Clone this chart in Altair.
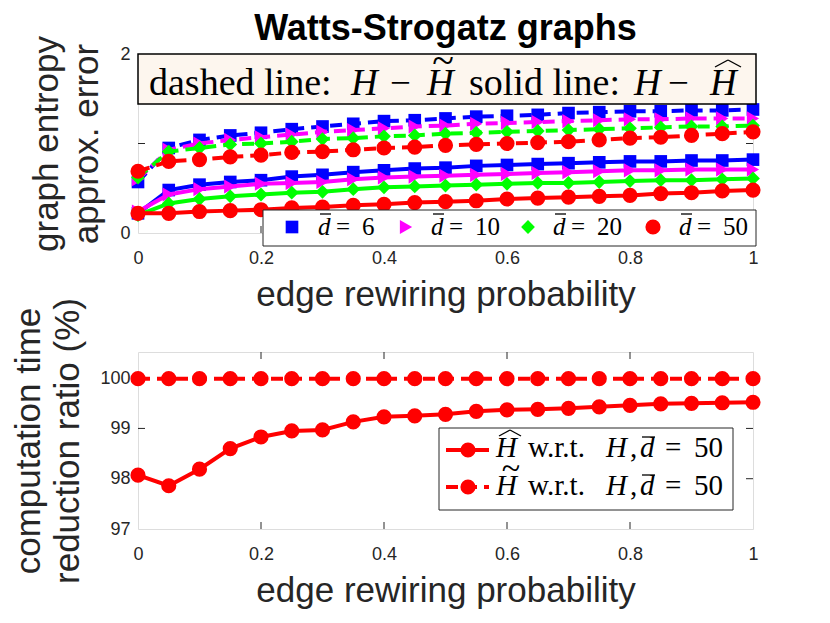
import altair as alt
import pandas as pd

# ---------------- data ----------------
P = [0, 0.05, 0.1, 0.15, 0.2, 0.25, 0.3, 0.35, 0.4, 0.45, 0.5,
     0.55, 0.6, 0.65, 0.7, 0.75, 0.8, 0.85, 0.9, 0.95, 1.0]

DEGREES = ["6", "10", "20", "50"]
COLORS = ["#0000FF", "#FF00FF", "#00FF00", "#FF0000"]
SHAPES = ["square", "triangle-right", "diamond", "circle"]
SIZES = [160, 200, 190, 230]

# dashed lines: H - H~
tilde_err_d6 = [0.57, 0.95, 1.04, 1.09, 1.12, 1.16, 1.19, 1.22, 1.25, 1.26, 1.28,
                1.30, 1.31, 1.32, 1.34, 1.35, 1.36, 1.36, 1.37, 1.37, 1.38]
tilde_err_d10 = [0.60, 0.93, 1.00, 1.04, 1.07, 1.10, 1.13, 1.15, 1.17, 1.19, 1.20,
                 1.22, 1.23, 1.24, 1.25, 1.26, 1.27, 1.27, 1.28, 1.28, 1.28]
tilde_err_d20 = [0.62, 0.91, 0.95, 0.99, 1.00, 1.02, 1.05, 1.06, 1.08, 1.09, 1.11,
                 1.12, 1.13, 1.14, 1.15, 1.16, 1.17, 1.18, 1.19, 1.19, 1.20]
tilde_err_d50 = [0.69, 0.80, 0.82, 0.85, 0.87, 0.90, 0.91, 0.93, 0.95, 0.96, 0.98,
                 0.99, 1.00, 1.01, 1.02, 1.04, 1.06, 1.07, 1.09, 1.11, 1.13]
# solid lines: H - H^
hat_err_d6 = [0.22, 0.48, 0.54, 0.57, 0.59, 0.63, 0.65, 0.68, 0.70, 0.72, 0.73,
              0.75, 0.76, 0.77, 0.78, 0.79, 0.80, 0.80, 0.81, 0.81, 0.82]
hat_err_d10 = [0.24, 0.43, 0.49, 0.52, 0.55, 0.56, 0.57, 0.60, 0.62, 0.63, 0.64,
               0.65, 0.66, 0.67, 0.68, 0.69, 0.70, 0.70, 0.71, 0.71, 0.71]
hat_err_d20 = [0.20, 0.33, 0.38, 0.41, 0.43, 0.45, 0.46, 0.49, 0.51, 0.52, 0.53,
               0.54, 0.55, 0.56, 0.56, 0.57, 0.58, 0.59, 0.59, 0.60, 0.61]
hat_err_d50 = [0.22, 0.22, 0.24, 0.25, 0.26, 0.28, 0.29, 0.31, 0.32, 0.34, 0.35,
               0.36, 0.38, 0.39, 0.40, 0.41, 0.42, 0.44, 0.45, 0.47, 0.48]

ratio_hat_d50 = [98.07, 97.86, 98.19, 98.60, 98.83, 98.95, 98.97, 99.13, 99.23, 99.25, 99.28,
                 99.34, 99.37, 99.38, 99.40, 99.43, 99.46, 99.49, 99.50, 99.51, 99.52]
ratio_tilde_d50 = [99.99, 99.99, 99.99, 99.99, 99.99, 99.99, 99.99, 99.99, 99.99, 99.99, 99.99,
                   99.99, 99.99, 99.99, 99.99, 99.99, 99.99, 99.99, 99.99, 99.99, 99.99]

X_TICKS = [0, 0.2, 0.4, 0.6, 0.8, 1]
TOP_Y_TICKS = [0, 1, 2]
BOT_Y_TICKS = [97, 98, 99, 100]

# ---------------- styling ----------------
W, H1, H2 = 615, 179, 177
SANS = "Liberation Sans"
SERIF = "Liberation Serif"
GRAY = "#262626"
DASH = [12, 7]
DUMMY = pd.DataFrame({"k": [0]})


def x_enc(title):
    return alt.X("x:Q", scale=alt.Scale(domain=[0, 1], nice=False, zero=False),
                 axis=alt.Axis(values=X_TICKS, format="~g", title=title, ticks=False, tickSize=0,
                               domain=False, grid=False, labelFlush=False, labelOverlap=False,
                               labelFont=SANS, labelFontSize=18, labelColor=GRAY, labelPadding=16,
                               titleFont=SANS, titleFontSize=35, titleFontWeight="normal",
                               titleColor=GRAY, titlePadding=10))


def y_enc(domain, ticks, title, lh, tpad, fmt):
    return alt.Y("y:Q", scale=alt.Scale(domain=domain, nice=False, zero=False),
                 axis=alt.Axis(values=ticks, format=fmt, title=title, ticks=False, tickSize=0,
                               domain=False, grid=False, labelFlush=False, labelOverlap=False,
                               labelFont=SANS, labelFontSize=18, labelColor=GRAY, labelPadding=8,
                               titleFont=SANS, titleFontSize=35, titleFontWeight="normal",
                               titleColor=GRAY, titlePadding=tpad, titleLineHeight=lh))


def txt(s, x, y, size, italic=False, font=SERIF, align="left", baseline="alphabetic", color="black"):
    kw = dict(font=font, fontSize=size, align=align, baseline=baseline, color=color)
    if italic:
        kw["fontStyle"] = "italic"
    return alt.Chart(DUMMY).mark_text(**kw).encode(
        x=alt.value(x), y=alt.value(y), text=alt.value(s))


def seg(x1, y1, x2, y2, width=1.5, color="black", dash=None):
    kw = dict(color=color, strokeWidth=width)
    if dash:
        kw["strokeDash"] = dash
    return alt.Chart(DUMMY).mark_rule(**kw).encode(
        x=alt.value(x1), x2=alt.value(x2), y=alt.value(y1), y2=alt.value(y2))


def hat(cx, top, hw, depth, width=1.4):
    return [seg(cx - hw, top + depth, cx, top, width), seg(cx, top, cx + hw, top + depth, width)]


def box(x1, x2, y1, y2, fill, stroke, sw):
    return alt.Chart(DUMMY).mark_rect(fill=fill, stroke=stroke, strokeWidth=sw).encode(
        x=alt.value(x1), x2=alt.value(x2), y=alt.value(y1), y2=alt.value(y2))


def dot(x, y, shape, color, size):
    return alt.Chart(DUMMY).mark_point(shape=shape, filled=True, color=color, size=size,
                                       opacity=1).encode(x=alt.value(x), y=alt.value(y))


def series(xs, ys, color, shape, size, dashed, X, Y):
    df = pd.DataFrame({"x": xs, "y": ys})
    lkw = dict(color=color, strokeWidth=4)
    if dashed:
        lkw["strokeDash"] = DASH
    line = alt.Chart(df).mark_line(**lkw).encode(x=X, y=Y)
    pts = alt.Chart(df).mark_point(shape=shape, filled=True, color=color, size=size,
                                   opacity=1).encode(x=X, y=Y)
    return [line, pts]


def tick_layers(X, Y, xt, yt, h, top=True):
    out = []
    xdf = pd.DataFrame({"x": xt})
    ydf = pd.DataFrame({"y": yt})
    out.append(alt.Chart(xdf).mark_rule(color=GRAY, strokeWidth=1).encode(
        x=X, y=alt.value(h), y2=alt.value(h - 7)))
    if top:
        out.append(alt.Chart(xdf).mark_rule(color=GRAY, strokeWidth=1).encode(
            x=X, y=alt.value(0), y2=alt.value(7)))
    out.append(alt.Chart(ydf).mark_rule(color=GRAY, strokeWidth=1).encode(
        y=Y, x=alt.value(0), x2=alt.value(7)))
    out.append(alt.Chart(ydf).mark_rule(color=GRAY, strokeWidth=1).encode(
        y=Y, x=alt.value(W - 7), x2=alt.value(W)))
    return out


# ---------------- top panel ----------------
Xt = x_enc("edge rewiring probability")
Yt = y_enc([0, 2], TOP_Y_TICKS, ["graph entropy", "approx. error"], 40, 15, "d")

top_layers = tick_layers(Xt, Yt, [0.2, 0.4, 0.6, 0.8], [1], H1, top=False)
tilde_all = [tilde_err_d6, tilde_err_d10, tilde_err_d20, tilde_err_d50]
hat_all = [hat_err_d6, hat_err_d10, hat_err_d20, hat_err_d50]
for i in range(4):
    top_layers += series(P, tilde_all[i], COLORS[i], SHAPES[i], SIZES[i], True, Xt, Yt)
    top_layers += series(P, hat_all[i], COLORS[i], SHAPES[i], SIZES[i], False, Xt, Yt)

# caption box
top_layers.append(box(0, 618, 0, 50, "#FDF6EE", "black", 1.5))
top_layers += [
    txt("dashed line:", 11, 41, 38),
    txt("H", 213, 41, 37, italic=True),
    txt("\u2212", 252, 41, 37),
    txt("H", 289, 41, 37, italic=True),
    txt("~", 305, 20, 40, align="center"),
    txt("solid line:", 331, 41, 38),
    txt("H", 496, 41, 37, italic=True),
    txt("\u2212", 530, 41, 37),
    txt("H", 572, 41, 37, italic=True),
]
top_layers += hat(590, 6, 13, 7)

# series legend
top_layers.append(box(125, 618, 156, 192, "white", GRAY, 1))
starts = [180, 293, 415, 541]
mx = [154, 268, 390, 515]
for i in range(4):
    s = starts[i]
    top_layers.append(dot(mx[i], 173, SHAPES[i], COLORS[i], SIZES[i]))
    top_layers += [
        txt("d", s, 181, 25, italic=True),
        seg(s + 2, 160, s + 13, 160, 1.3),
        txt("=", s + 18, 181, 25),
        txt(DEGREES[i], s + 44, 181, 25),
    ]

top = alt.layer(*top_layers).properties(
    width=W, height=H1,
    title=alt.Title("Watts-Strogatz graphs", font=SANS, fontSize=36, fontWeight="bold",
                    color="black", anchor="middle", offset=-12))

# ---------------- bottom panel ----------------
Xb = x_enc("edge rewiring probability")
Yb = y_enc([97, 100.52], BOT_Y_TICKS, ["computation time", "reduction ratio (%)"], 39, 14, "d")

bot_layers = tick_layers(Xb, Yb, [0.2, 0.4, 0.6, 0.8], [98, 99, 100], H2, top=True)
bot_layers += series(P, ratio_tilde_d50, "#FF0000", "circle", 230, True, Xb, Yb)
bot_layers += series(P, ratio_hat_d50, "#FF0000", "circle", 230, False, Xb, Yb)

bot_layers.append(box(301, 595, 76, 158, "white", GRAY, 1))
rows = [(98, 105, False), (135, 143, True)]
for cy, base, dashed in rows:
    bot_layers.append(seg(308, cy, 351, cy, 4, "#FF0000", DASH if dashed else None))
    bot_layers.append(dot(330, cy, "circle", "#FF0000", 230))
    bot_layers += [
        txt("H", 358, base, 29, italic=True),
        txt("w.r.t.", 390, base, 29),
        txt("H", 468, base, 29, italic=True),
        txt(",", 492, base, 29),
        txt("d", 502, base, 29, italic=True),
        seg(504, base - 20, 517, base - 20, 1.3),
        txt("=", 527, base, 29),
        txt("50", 556, base, 29),
    ]
    if dashed:
        bot_layers.append(txt("~", 373, base - 16, 34, align="center"))
    else:
        bot_layers += hat(372, base - 27, 11, 6, 1.3)

bottom = alt.layer(*bot_layers).properties(width=W, height=H2)

chart = alt.vconcat(top, bottom, spacing=119, bounds="flush").configure_view(
    stroke=GRAY, strokeWidth=1).configure(
    background="white", padding={"left": 3, "top": 2, "right": 5, "bottom": 5})

chart.save("out.html", embed_options={"renderer": "svg", "actions": False})
